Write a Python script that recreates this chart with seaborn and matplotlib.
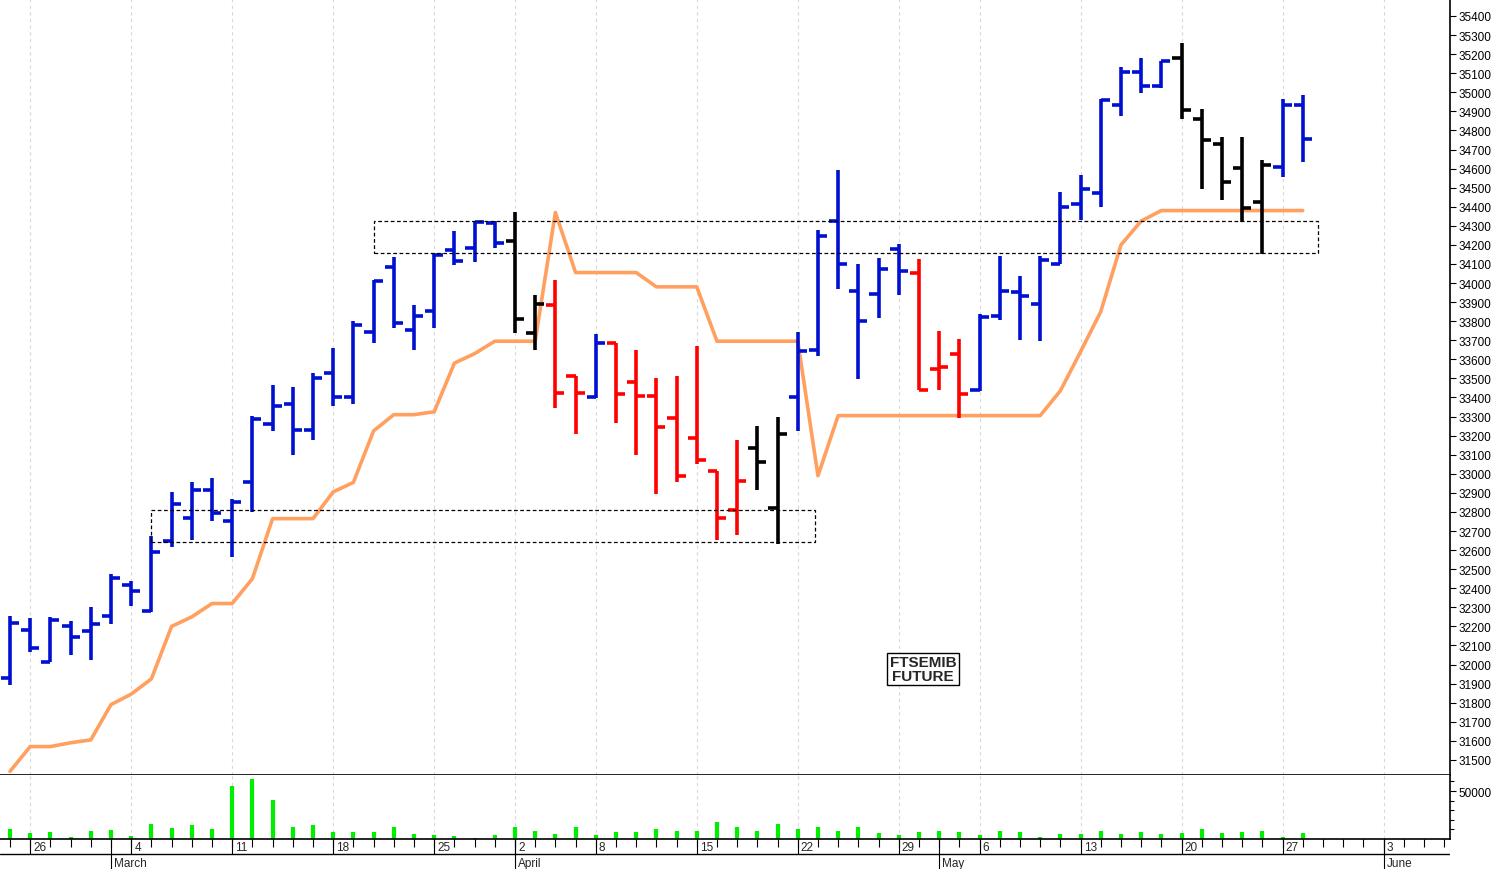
import matplotlib
matplotlib.use("Agg")
import matplotlib.pyplot as plt
import seaborn as sns
import numpy as np
import pandas as pd

sns.set_style("white")
plt.rcParams['font.family'] = ['Liberation Sans', 'DejaVu Sans']

slots = list(range(65))
opens = [31930,32180,32015,32200,32175,32255,32415,32280,32650,32770,32915,32755,32955,33260,33365,33230,33530,33405,33745,34085,
         33755,33855,34175,34185,34315,34220,33740,33885,33515,33405,33685,33480,33410,33295,33190,33015,32810,33135,32820,33405,
         33650,34325,33960,33945,34180,34050,33550,33630,33440,33825,33955,33890,34100,34415,34470,34935,35105,35035,35180,34860,
         34730,34605,34425,34610,34935]
highs = [32255,32245,32250,32230,32300,32475,32440,32675,32905,32955,32980,32870,33305,33465,33455,33530,33660,33800,34015,34135,
         33885,34150,34275,34325,34325,34370,33935,34015,33515,33735,33685,33650,33500,33515,33670,33015,33175,33250,33300,33745,
         34280,34595,34100,34130,34205,34125,33750,33705,33840,34140,34035,34140,34475,34565,34965,35135,35180,35165,35260,34910,
         34765,34765,34645,34965,34985]
lows = [31895,32065,32015,32050,32025,32215,32305,32275,32615,32655,32755,32565,32800,33225,33100,33175,33355,33365,33685,33765,
        33650,33765,34095,34110,34185,33740,33650,33345,33210,33395,33265,33100,32895,32955,33050,32655,32680,32915,32630,33225,
        33620,33970,33495,33815,33935,33440,33440,33290,33435,33805,33700,33695,34100,34330,34400,34875,34995,35020,34860,34495,
        34435,34320,34150,34555,34635]
closes = [32220,32085,32235,32145,32210,32455,32385,32590,32840,32915,32795,32850,33285,33355,33230,33500,33405,33780,34010,33790,
          33825,34145,34115,34320,34210,33810,33890,33425,33425,33685,33420,33410,33245,32990,33070,32770,32960,33060,33210,33645,
          34245,34100,33800,34075,34065,33440,33560,33420,33820,33960,33930,34120,34400,34495,34960,35105,35035,35165,34905,34750,
          34530,34395,34620,34935,34755]
trend = ['b']*25 + ['k','k','r','r','b'] + ['r']*7 + ['k','k'] + ['b']*6 + ['r']*3 + ['b']*10 + ['k']*5 + ['b','b']
stop_line = [31440,31570,31570,31590,31605,31790,31845,31925,32200,32250,32320,32320,32450,32765,32765,32765,32905,32955,33225,33310,
             33310,33325,33580,33630,33695,33695,33695,34370,34055,34055,34055,34055,33980,33980,33980,33695,33695,33695,33695,33695,
             32990] + [33305]*11 + [33435,33640,33850,34200,34325] + [34380]*8
volume = [10400,6250,7300,2100,8300,9400,3100,15600,11500,14600,10400,55200,62500,40600,12500,14600,7300,7300,7300,12500,
          5200,4200,3100,1000,4200,12500,8300,5200,12500,4200,7300,7300,10400,8300,8300,17700,12500,8300,15600,10400,
          12500,8300,12500,6250,4200,7300,8300,7300,4200,8300,7300,2100,5200,5200,8300,5200,7300,5200,6250,10400,
          6250,7300,8300,2100,6250]
day_labels = ['26','4','11','18','25','2','8','15','22','29','6','13','20','27','3']
day_slots = [1,6,11,16,21,25,29,34,39,44,48,53,58,63,68]
month_labels = ['March','April','May','June']
month_slots = [5,25,46,68]
box_upper = (18, 64.75, 34157, 34325)
box_lower = (7, 39.85, 32645, 32810)
title_text = "FTSEMIB\nFUTURE"

colors = {'b': '#0010d0', 'r': '#ff0000', 'k': '#000000'}
W, H = 1499, 870
fig = plt.figure(figsize=(W/100, H/100), dpi=100)
xl = (-0.495, 71.29)
ax = fig.add_axes([0, 1-776/H, 1450/W, 776/H])
axv = fig.add_axes([0, 30/H, 1450/W, 64/H])
axd = fig.add_axes([0, 0, 1450/W, 30/H])

df = pd.DataFrame(dict(slot=slots, o=opens, h=highs, l=lows, c=closes, t=trend, stop=stop_line, vol=volume))
for a in (ax, axv):
    for s in day_slots:
        a.axvline(s, color='#d8d8d8', lw=0.8, ls=(0, (3, 3)), zorder=0)

for t, g in df.groupby('t'):
    col = colors[t]
    ax.vlines(g.slot, g.l, g.h, color=col, lw=2.6, zorder=3)
    ax.hlines(g.o, g.slot-0.45, g.slot, color=col, lw=2.6, zorder=3)
    ax.hlines(g.c, g.slot, g.slot+0.45, color=col, lw=2.6, zorder=3)

sns.lineplot(data=df, x='slot', y='stop', ax=ax, color='#ffa060', lw=2.6, zorder=2)

for (x0, x1, y0, y1) in (box_upper, box_lower):
    ax.add_patch(plt.Rectangle((x0, y0), x1-x0, y1-y0, fill=False, ec='black', lw=0.9, ls=(0, (3, 2)), zorder=4))

ax.text(45.2, 31977, title_text, ha='center', va='center', fontsize=11, fontweight='bold',
        linespacing=1.0,
        bbox=dict(boxstyle='square,pad=0.15', fc='white', ec='black', lw=1))

ax.set_xlim(*xl)
ax.set_ylim(31421, 35489)
ax.set_xlabel(''); ax.set_ylabel('')
ax.set_xticks([])
ax.yaxis.tick_right()
ax.set_yticks(range(31500, 35401, 100))
ax.tick_params(axis='y', labelsize=8.5, length=4, width=0.8, pad=2, direction='out', colors='black')
for sp in ('top', 'left'):
    ax.spines[sp].set_visible(False)
for sp in ('right', 'bottom'):
    ax.spines[sp].set_color('black')
    ax.spines[sp].set_linewidth(1.2)

axv.vlines(df.slot, 0, df.vol, color='#00ee00', lw=3)
axv.set_xlim(*xl)
axv.set_ylim(0, 66700)
axv.set_xticks([])
axv.yaxis.tick_right()
axv.set_yticks([50000])
axv.set_yticks([10000, 20000, 30000, 40000, 60000], minor=True)
axv.tick_params(axis='y', labelsize=8.5, length=4, width=0.8, pad=2, colors='black')
axv.tick_params(axis='y', which='minor', length=3, width=0.8, colors='black')
for sp in ('top', 'left'):
    axv.spines[sp].set_visible(False)
for sp in ('right', 'bottom'):
    axv.spines[sp].set_color('black')
    axv.spines[sp].set_linewidth(1.2)

axd.set_xlim(*xl)
axd.set_ylim(0, 30)
axd.axis('off')
axd.axhline(15, color='black', lw=1)
axd.vlines(np.arange(0, 72), 22, 30, color='black', lw=0.8)
for s in month_slots:
    axd.vlines(s, 0, 30, color='black', lw=0.8)
for s, lab in zip(day_slots, day_labels):
    axd.vlines(s, 15, 30, color='black', lw=0.8)
    axd.text(s+0.15, 22, lab, fontsize=8.5, ha='left', va='center')
for s, lab in zip(month_slots, month_labels):
    axd.text(s+0.15, 6, lab, fontsize=8.5, ha='left', va='center')

fig.savefig('out.png', dpi=100)
